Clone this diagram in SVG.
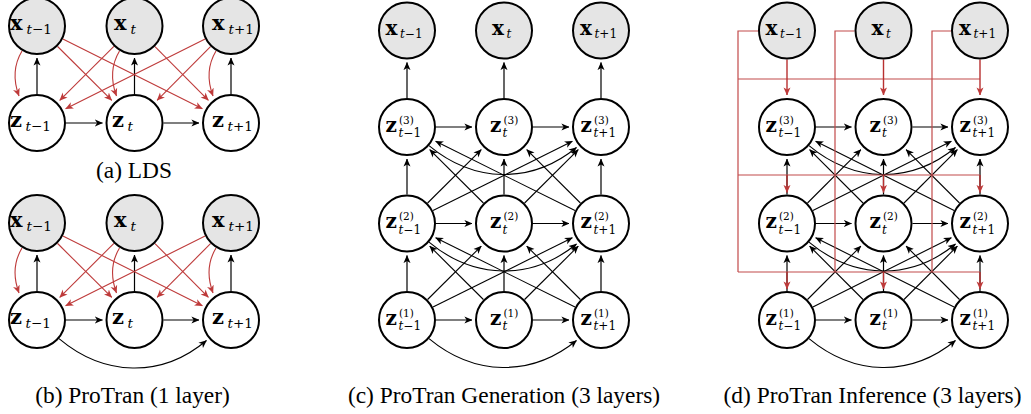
<svg xmlns="http://www.w3.org/2000/svg" width="1031" height="414" viewBox="0 0 1031 414">
<style>
.n{stroke:#000;stroke-width:2;fill:#fff}
.o{fill:#e5e5e5}
.m{font-family:"DejaVu Serif",serif;font-weight:bold}
.s{font-family:"DejaVu Serif",serif}
.i{font-style:italic}
.m1{font-size:21px}.s1{font-size:13.5px}
.m2{font-size:20px}.s2{font-size:12px}.p2{font-size:10.5px}
.k{stroke:#000;stroke-width:1.2;fill:none;marker-end:url(#ak)}
.kc{stroke:#000;stroke-width:1.1;fill:none;marker-end:url(#ak)}
.r{stroke:#be3a3a;stroke-width:1.1;fill:none;marker-end:url(#ar)}
.rb{stroke:#c24a4a;stroke-width:1.2;fill:none}
.ra{stroke:#b83030;stroke-width:1.4;fill:none;marker-end:url(#ar)}
.cap{font-size:23.4px;text-anchor:middle}
</style>
<defs>
<marker id="ak" viewBox="0 0 8 8" refX="7.6" refY="4" markerWidth="8" markerHeight="8" markerUnits="userSpaceOnUse" orient="auto"><path d="M0,0.5 L8,4 L0,7.5 L2.2,4 Z" fill="#000"/></marker>
<marker id="ar" viewBox="0 0 8 8" refX="7.6" refY="4" markerWidth="8" markerHeight="8" markerUnits="userSpaceOnUse" orient="auto"><path d="M0,0.5 L8,4 L0,7.5 L2.2,4 Z" fill="#be3a3a"/></marker>
</defs>

<g id="connectors">
<g id="conn-a">
<path class="k" d="M37,94 L37,58"/><path class="k" d="M134.5,94 L134.5,58"/><path class="k" d="M231,94 L231,58"/>
<path class="k" d="M66,123 L102.5,123"/><path class="k" d="M163.5,123 L199,123"/>
<path class="r" d="M22,51 C13,66 13,80 19,96"/>
<path class="r" d="M119.5,51 C110.5,66 110.5,80 116.5,96"/>
<path class="r" d="M216,51 C207,66 207,80 213,96"/>
<path class="r" d="M57.6,46.5 L111.8,100.4"/>
<path class="r" d="M62.9,39 L202.4,108.7"/>
<path class="r" d="M113.9,46.4 L59.7,100.4"/>
<path class="r" d="M155,46.6 L208.4,100.3"/>
<path class="r" d="M210.5,46.6 L157.1,100.3"/>
<path class="r" d="M205.1,39 L65.6,108.7"/>
</g>
<g id="conn-b">
<path class="k" d="M37,291 L37,255"/><path class="k" d="M134.5,291 L134.5,255"/><path class="k" d="M231,291 L231,255"/>
<path class="k" d="M66,320 L102.5,320"/><path class="k" d="M163.5,320 L199,320"/>
<path class="kc" d="M59,338.6 C104,376.5 161.5,378.4 206.5,340.5"/>
<path class="r" d="M22,248 C13,263 13,277 19,293"/>
<path class="r" d="M119.5,248 C110.5,263 110.5,277 116.5,293"/>
<path class="r" d="M216,248 C207,263 207,277 213,293"/>
<path class="r" d="M57.6,243.5 L111.8,297.4"/>
<path class="r" d="M62.9,236 L202.4,305.7"/>
<path class="r" d="M113.9,243.4 L59.7,297.4"/>
<path class="r" d="M155,243.6 L208.4,297.3"/>
<path class="r" d="M210.5,243.6 L157.1,297.3"/>
<path class="r" d="M205.1,236 L65.6,305.7"/>
</g>
<g id="conn-c">
<path class="k" d="M407,98 L407,62.5"/><path class="k" d="M504,98 L504,62.5"/><path class="k" d="M601,98 L601,62.5"/>
<path class="k" d="M436,127 L472,127"/><path class="k" d="M533,127 L569,127"/>
<path class="k" d="M436,223.5 L472,223.5"/><path class="k" d="M533,223.5 L569,223.5"/>
<path class="k" d="M436,320 L472,320"/><path class="k" d="M533,320 L569,320"/>
<path class="k" d="M407,194.5 L407,159"/><path class="k" d="M504,194.5 L504,159"/><path class="k" d="M601,194.5 L601,159"/>
<path class="k" d="M407,291 L407,255.5"/><path class="k" d="M504,291 L504,255.5"/><path class="k" d="M601,291 L601,255.5"/>
<path class="kc" d="M427.6,203 L481.3,149.6"/>
<path class="kc" d="M433,210.6 L572.4,141.2"/>
<path class="kc" d="M483.4,203 L429.7,149.6"/>
<path class="kc" d="M524.6,203 L578.3,149.6"/>
<path class="kc" d="M580.4,203 L526.7,149.6"/>
<path class="kc" d="M575,210.6 L435.6,141.2"/>
<path class="kc" d="M427.6,299.5 L481.3,246.1"/>
<path class="kc" d="M433,307.1 L572.4,237.7"/>
<path class="kc" d="M483.4,299.5 L429.7,246.1"/>
<path class="kc" d="M524.6,299.5 L578.3,246.1"/>
<path class="kc" d="M580.4,299.5 L526.7,246.1"/>
<path class="kc" d="M575,307.1 L435.6,237.7"/>
<path class="kc" d="M429,145.6 C474,183 531,184.5 576.5,147.5"/>
<path class="kc" d="M429,242.1 C474,279.5 531,281 576.5,244"/>
<path class="kc" d="M429,338.6 C474,376 531,377.5 576.5,340.5"/>
</g>
<g id="conn-d">
<path class="k" d="M816,127 L851.5,127"/><path class="k" d="M912.5,127 L948,127"/>
<path class="k" d="M816,223.5 L851.5,223.5"/><path class="k" d="M912.5,223.5 L948,223.5"/>
<path class="k" d="M816,320 L851.5,320"/><path class="k" d="M912.5,320 L948,320"/>
<path class="k" d="M787,194.5 L787,159"/><path class="k" d="M883.5,194.5 L883.5,159"/><path class="k" d="M980,194.5 L980,159"/>
<path class="k" d="M787,291 L787,255.5"/><path class="k" d="M883.5,291 L883.5,255.5"/><path class="k" d="M980,291 L980,255.5"/>
<path class="kc" d="M807.5,203 L860.9,149.6"/>
<path class="kc" d="M812.9,210.5 L951.4,141.3"/>
<path class="kc" d="M863,203 L809.6,149.6"/>
<path class="kc" d="M904,203 L957.4,149.6"/>
<path class="kc" d="M959.5,203 L906.1,149.6"/>
<path class="kc" d="M954.1,210.5 L815.6,141.3"/>
<path class="kc" d="M807.5,299.5 L860.9,246.1"/>
<path class="kc" d="M812.9,307 L951.4,237.8"/>
<path class="kc" d="M863,299.5 L809.6,246.1"/>
<path class="kc" d="M904,299.5 L957.4,246.1"/>
<path class="kc" d="M959.5,299.5 L906.1,246.1"/>
<path class="kc" d="M954.1,307 L815.6,237.8"/>
<path class="kc" d="M809,145.6 C854,183 910.5,184.5 955.5,147.5"/>
<path class="kc" d="M809,242.1 C854,279.5 910.5,281 955.5,244"/>
<path class="kc" d="M809,338.6 C854,376 910.5,377.5 955.5,340.5"/>
<path class="rb" d="M758,31 H738 V272"/>
<path class="rb" d="M854.5,31 H835 V272"/>
<path class="rb" d="M951,31 H932 V272"/>
<path class="rb" d="M738,79 H980"/>
<path class="rb" d="M738,175 H980"/>
<path class="rb" d="M738,272 H980"/>
<path class="ra" d="M787,59.5 L787,95"/><path class="ra" d="M883.5,59.5 L883.5,95"/><path class="ra" d="M980,59.5 L980,95"/>
<path class="ra" d="M787,175 L787,192.5"/><path class="ra" d="M883.5,175 L883.5,192.5"/><path class="ra" d="M980,175 L980,192.5"/>
<path class="ra" d="M787,272 L787,289"/><path class="ra" d="M883.5,272 L883.5,289"/><path class="ra" d="M980,272 L980,289"/>
</g>
</g>

<g id="a-x0"><circle class="n o" cx="37" cy="26" r="28"/><text class="m m1" x="10" y="30">x</text><text class="s s1" x="26.5" y="34"><tspan class="i">t</tspan>−1</text></g>
<g id="a-x1"><circle class="n o" cx="134.5" cy="26" r="28"/><text class="m m1" x="114" y="30">x</text><text class="s s1 i" x="130.5" y="34">t</text></g>
<g id="a-x2"><circle class="n o" cx="231" cy="26" r="28"/><text class="m m1" x="212" y="30">x</text><text class="s s1" x="228.5" y="34"><tspan class="i">t</tspan>+1</text></g>
<g id="a-z0"><circle class="n" cx="37" cy="123" r="28"/><text class="m m1" x="10" y="127">z</text><text class="s s1" x="25.5" y="131"><tspan class="i">t</tspan>−1</text></g>
<g id="a-z1"><circle class="n" cx="134.5" cy="123" r="28"/><text class="m m1" x="112" y="127">z</text><text class="s s1 i" x="127.5" y="131">t</text></g>
<g id="a-z2"><circle class="n" cx="231" cy="123" r="28"/><text class="m m1" x="212" y="127">z</text><text class="s s1" x="227.5" y="131"><tspan class="i">t</tspan>+1</text></g>

<g id="b-x0"><circle class="n o" cx="37" cy="223" r="28"/><text class="m m1" x="10" y="227">x</text><text class="s s1" x="26.5" y="231"><tspan class="i">t</tspan>−1</text></g>
<g id="b-x1"><circle class="n o" cx="134.5" cy="223" r="28"/><text class="m m1" x="114" y="227">x</text><text class="s s1 i" x="130.5" y="231">t</text></g>
<g id="b-x2"><circle class="n o" cx="231" cy="223" r="28"/><text class="m m1" x="212" y="227">x</text><text class="s s1" x="228.5" y="231"><tspan class="i">t</tspan>+1</text></g>
<g id="b-z0"><circle class="n" cx="37" cy="320" r="28"/><text class="m m1" x="10" y="324">z</text><text class="s s1" x="25.5" y="328"><tspan class="i">t</tspan>−1</text></g>
<g id="b-z1"><circle class="n" cx="134.5" cy="320" r="28"/><text class="m m1" x="112" y="324">z</text><text class="s s1 i" x="127.5" y="328">t</text></g>
<g id="b-z2"><circle class="n" cx="231" cy="320" r="28"/><text class="m m1" x="212" y="324">z</text><text class="s s1" x="227.5" y="328"><tspan class="i">t</tspan>+1</text></g>

<g id="c-x0"><circle class="n o" cx="407" cy="30.5" r="28"/><text class="m m2" x="385.5" y="34.5">x</text><text class="s s2" x="400" y="38"><tspan class="i">t</tspan>−1</text></g>
<g id="c-x1"><circle class="n o" cx="504" cy="30.5" r="28"/><text class="m m2" x="492" y="34.5">x</text><text class="s s2 i" x="506.5" y="38">t</text></g>
<g id="c-x2"><circle class="n o" cx="601" cy="30.5" r="28"/><text class="m m2" x="580" y="34.5">x</text><text class="s s2" x="594.5" y="38"><tspan class="i">t</tspan>+1</text></g>
<g id="c-z30"><circle class="n" cx="407" cy="127" r="28"/><text class="m m2" x="385.5" y="131.5">z</text><text class="s p2" x="399" y="123.5">(3)</text><text class="s s2" x="398.5" y="137"><tspan class="i">t</tspan>−1</text></g>
<g id="c-z31"><circle class="n" cx="504" cy="127" r="28"/><text class="m m2" x="490" y="131.5">z</text><text class="s p2" x="503.5" y="123.5">(3)</text><text class="s s2 i" x="502.5" y="137">t</text></g>
<g id="c-z32"><circle class="n" cx="601" cy="127" r="28"/><text class="m m2" x="580.5" y="131.5">z</text><text class="s p2" x="594" y="123.5">(3)</text><text class="s s2" x="593.5" y="137"><tspan class="i">t</tspan>+1</text></g>
<g id="c-z20"><circle class="n" cx="407" cy="223.5" r="28"/><text class="m m2" x="385.5" y="228">z</text><text class="s p2" x="399" y="220">(2)</text><text class="s s2" x="398.5" y="233.5"><tspan class="i">t</tspan>−1</text></g>
<g id="c-z21"><circle class="n" cx="504" cy="223.5" r="28"/><text class="m m2" x="490" y="228">z</text><text class="s p2" x="503.5" y="220">(2)</text><text class="s s2 i" x="502.5" y="233.5">t</text></g>
<g id="c-z22"><circle class="n" cx="601" cy="223.5" r="28"/><text class="m m2" x="580.5" y="228">z</text><text class="s p2" x="594" y="220">(2)</text><text class="s s2" x="593.5" y="233.5"><tspan class="i">t</tspan>+1</text></g>
<g id="c-z10"><circle class="n" cx="407" cy="320" r="28"/><text class="m m2" x="385.5" y="324.5">z</text><text class="s p2" x="399" y="316.5">(1)</text><text class="s s2" x="398.5" y="330"><tspan class="i">t</tspan>−1</text></g>
<g id="c-z11"><circle class="n" cx="504" cy="320" r="28"/><text class="m m2" x="490" y="324.5">z</text><text class="s p2" x="503.5" y="316.5">(1)</text><text class="s s2 i" x="502.5" y="330">t</text></g>
<g id="c-z12"><circle class="n" cx="601" cy="320" r="28"/><text class="m m2" x="580.5" y="324.5">z</text><text class="s p2" x="594" y="316.5">(1)</text><text class="s s2" x="593.5" y="330"><tspan class="i">t</tspan>+1</text></g>

<g id="d-x0"><circle class="n o" cx="787" cy="30.5" r="28"/><text class="m m2" x="765.5" y="34.5">x</text><text class="s s2" x="780" y="38"><tspan class="i">t</tspan>−1</text></g>
<g id="d-x1"><circle class="n o" cx="883.5" cy="30.5" r="28"/><text class="m m2" x="871.5" y="34.5">x</text><text class="s s2 i" x="886" y="38">t</text></g>
<g id="d-x2"><circle class="n o" cx="980" cy="30.5" r="28"/><text class="m m2" x="959" y="34.5">x</text><text class="s s2" x="973.5" y="38"><tspan class="i">t</tspan>+1</text></g>
<g id="d-z30"><circle class="n" cx="787" cy="127" r="28"/><text class="m m2" x="765.5" y="131.5">z</text><text class="s p2" x="779" y="123.5">(3)</text><text class="s s2" x="778.5" y="137"><tspan class="i">t</tspan>−1</text></g>
<g id="d-z31"><circle class="n" cx="883.5" cy="127" r="28"/><text class="m m2" x="869.5" y="131.5">z</text><text class="s p2" x="883" y="123.5">(3)</text><text class="s s2 i" x="882" y="137">t</text></g>
<g id="d-z32"><circle class="n" cx="980" cy="127" r="28"/><text class="m m2" x="959.5" y="131.5">z</text><text class="s p2" x="973" y="123.5">(3)</text><text class="s s2" x="972.5" y="137"><tspan class="i">t</tspan>+1</text></g>
<g id="d-z20"><circle class="n" cx="787" cy="223.5" r="28"/><text class="m m2" x="765.5" y="228">z</text><text class="s p2" x="779" y="220">(2)</text><text class="s s2" x="778.5" y="233.5"><tspan class="i">t</tspan>−1</text></g>
<g id="d-z21"><circle class="n" cx="883.5" cy="223.5" r="28"/><text class="m m2" x="869.5" y="228">z</text><text class="s p2" x="883" y="220">(2)</text><text class="s s2 i" x="882" y="233.5">t</text></g>
<g id="d-z22"><circle class="n" cx="980" cy="223.5" r="28"/><text class="m m2" x="959.5" y="228">z</text><text class="s p2" x="973" y="220">(2)</text><text class="s s2" x="972.5" y="233.5"><tspan class="i">t</tspan>+1</text></g>
<g id="d-z10"><circle class="n" cx="787" cy="320" r="28"/><text class="m m2" x="765.5" y="324.5">z</text><text class="s p2" x="779" y="316.5">(1)</text><text class="s s2" x="778.5" y="330"><tspan class="i">t</tspan>−1</text></g>
<g id="d-z11"><circle class="n" cx="883.5" cy="320" r="28"/><text class="m m2" x="869.5" y="324.5">z</text><text class="s p2" x="883" y="316.5">(1)</text><text class="s s2 i" x="882" y="330">t</text></g>
<g id="d-z12"><circle class="n" cx="980" cy="320" r="28"/><text class="m m2" x="959.5" y="324.5">z</text><text class="s p2" x="973" y="316.5">(1)</text><text class="s s2" x="972.5" y="330"><tspan class="i">t</tspan>+1</text></g>

<g id="captions" font-family="'Liberation Serif', 'Times New Roman', Times, serif">
<text class="cap" x="134" y="177.5">(a) LDS</text>
<text class="cap" x="132.5" y="402.5">(b) ProTran (1 layer)</text>
<text class="cap" x="504" y="402.5">(c) ProTran Generation (3 layers)</text>
<text class="cap" x="872.5" y="402.5">(d) ProTran Inference (3 layers)</text>
</g>
</svg>
